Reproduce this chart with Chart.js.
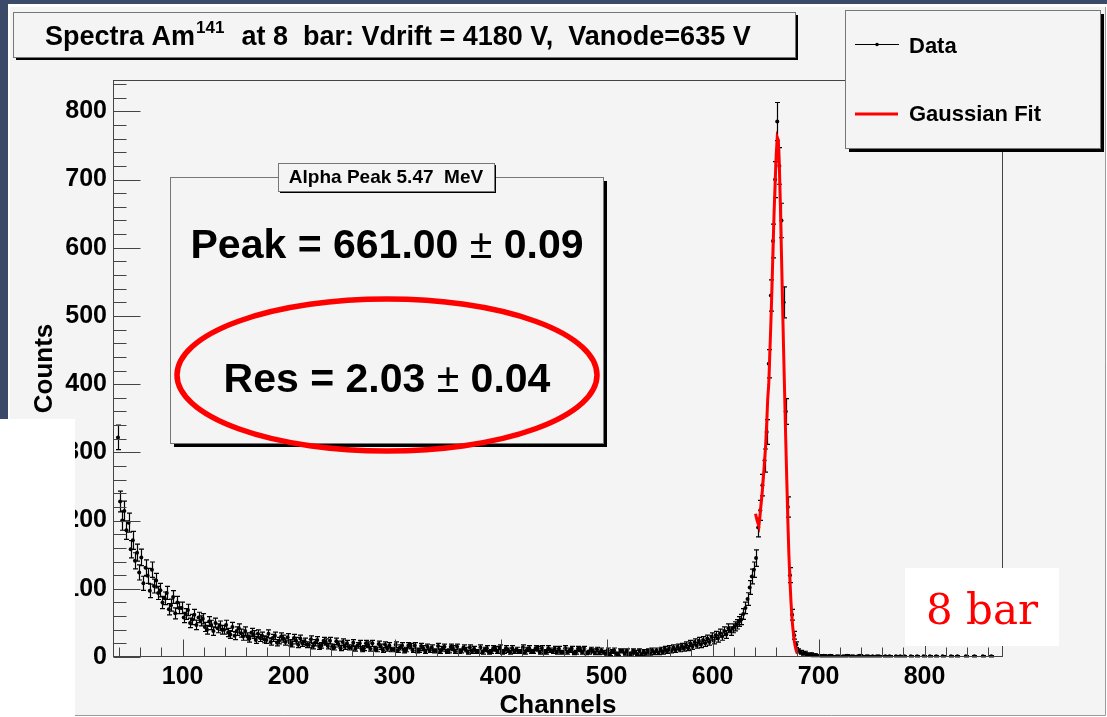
<!DOCTYPE html>
<html lang="en">
<head>
<meta charset="utf-8">
<title>Spectra Am141 at 8 bar</title>
<script src="https://cdn.jsdelivr.net/npm/chart.js@4.4.0/dist/chart.umd.min.js"></script>
<style>
  html, body { margin: 0; padding: 0; background: #3b4a68; }
  canvas { display: block; }
</style>
</head>
<body>
<canvas id="spectrum" width="1107" height="717"></canvas>

<script>
// histogram: 2-channel bins, first bin centred on channel 39
var binStart = 38;
var binWidth = 2;

// counts per bin (rows of 10 bins = 20 channels)
var counts = [
  322,228,200,214,186,197,158,171,141,153,   // 39-57
  124,146,108,131,119,97,128,104,112,94,     // 59-77
  98,80,86,94,70,76,88,64,80,72,             // 79-97
  72,58,63,69,50,55,62,47,58,53,             // 99-117
  56,44,40,52,47,38,50,42,46,40,             // 119-137
  40,47,36,33,44,31,38,42,35,30,             // 139-157
  38,30,27,36,33,25,34,28,31,26,             // 159-177
  25,34,22,28,31,21,24,30,27,22,             // 179-197
  29,21,19,28,24,18,27,20,23,18,             // 199-217
  18,26,16,21,25,15,17,24,22,16,             // 219-237
  24,15,14,23,19,13,22,15,20,14,             // 239-257
  14,21,12,17,20,11,13,20,18,12,             // 259-277
  20,12,11,19,15,10,18,12,17,11,             // 279-297
  11,18,10,14,17,9,11,17,16,10,              // 299-317
  17,9,10,16,13,8,15,10,14,9,                // 319-337
  9,16,8,12,15,8,9,15,13,8,                  // 339-357
  15,8,9,14,11,7,14,8,12,8,                  // 359-377
  8,14,7,11,13,7,8,13,12,8,                  // 379-397
  14,7,8,13,10,7,13,8,11,8,                  // 399-417
  8,14,7,11,13,8,8,13,12,7,                  // 419-437
  13,8,7,13,10,8,12,7,12,7,                  // 439-457
  7,13,7,10,12,6,7,12,11,7,                  // 459-477
  12,6,7,11,9,6,11,6,10,7,                   // 479-497
  5,10,4,8,10,5,4,9,9,5,                     // 499-517
  9,4,5,9,7,4,9,4,8,5,                       // 519-537
  9,5,10,6,10,6,11,7,12,8,                   // 539-557
  13,9,14,10,15,11,16,12,18,13,              // 559-577
  20,15,22,17,24,18,25,20,27,22,             // 579-597
  30,24,32,27,35,30,38,33,42,38,             // 599-617
  42,45,48,52,55,63,72,85,102,118,           // 619-637
  128,145,190,215,252,288,330,430,530,610,   // 639-657
  700,785,720,640,520,360,220,120,62,32,     // 659-677
  18,9,7,5,6,4,3,4,2,3,                      // 679-697
  2,2,1,2,1,1,2,1,0,1,                       // 699-717
  1,0,1,1,2,0,1,1,0,1,                       // 719-737
  2,1,0,1,1,0,1,0,1,1,                       // 739-757
  0,0,1,0,1,0,0,1,0,1,                       // 759-777
  0,1,0,0,1,0,0,1,0,0,                       // 779-797
  1,0,0,1,0,0,1,0,0,1,                       // 799-817
  0,0,0,1,0,0,1,0,0,0,                       // 819-837
  1,0,0,0,1,0,0,0,1,0,                       // 839-857
  0,0,1,0,0,0,0,0                            // 859-873
];

// gaussian fit curve as drawn (red)
var fitChannels = [640.5,642,643.7,645,646,647,648,649,650,651,652,653,654,655,656,657,658,659,660,661,
                   662,663,664,665,666,667,668,669,670,671,672,673,674,675,676,677,678,679,680];
var fitCounts   = [210,200,192,212,228,245,265,287,309,340,378,400,445,490,540,598,650,695,735,762,
                   758,720,660,590,520,450,385,320,260,200,150,112,80,55,38,24,15,9,5];

var xTicks = [100, 200, 300, 400, 500, 600, 700, 800];
var xMinor = [40,60,80,120,140,160,180,220,240,260,280,320,340,360,380,420,440,460,480,
              520,540,560,580,620,640,660,680,720,740,760,780,820,840,860];
var yTicks = [0, 100, 200, 300, 400, 500, 600, 700, 800];
var yMinor = [20,40,60,80,120,140,160,180,220,240,260,280,320,340,360,380,420,440,460,480,
              520,540,560,580,620,640,660,680,720,740,760,780,820,840];

var xMin = 34.3, xMax = 874;
var yMin = 0, yMax = 846;

var FONT = '"Liberation Sans", Arial, Helvetica, sans-serif';

var histPoints = counts.map(function(c, i) {
  return { x: binStart + binWidth * (i + 0.5), y: c > 0 ? c : null };
});
var fitPoints = fitChannels.map(function(c, i) { return { x: c, y: fitCounts[i] }; });

function box(ctx, x, y, w, h, sh) {
  ctx.fillStyle = '#000';
  ctx.fillRect(x + sh, y + sh, w, h);
  ctx.fillStyle = '#f4f4f4';
  ctx.fillRect(x, y, w, h);
  ctx.strokeStyle = '#777';
  ctx.lineWidth = 1;
  ctx.strokeRect(x + 0.5, y + 0.5, w, h);
}

var rootStyle = {
  id: 'rootStyle',
  beforeDraw: function(chart) {
    var ctx = chart.ctx;
    ctx.save();
    ctx.fillStyle = '#3b4a68';
    ctx.fillRect(0, 0, 1107, 717);
    ctx.fillStyle = '#ffffff';
    ctx.fillRect(8, 4, 1099, 713);
    ctx.fillStyle = '#f4f4f4';
    ctx.fillRect(10, 7, 1095, 708);
    ctx.strokeStyle = '#9a9a9a';
    ctx.beginPath();
    ctx.moveTo(1105.5, 7); ctx.lineTo(1105.5, 715.5); ctx.lineTo(10, 715.5);
    ctx.stroke();
    ctx.restore();
  },
  beforeDatasetsDraw: function(chart) {
    // sqrt(N) error bars
    var ctx = chart.ctx, xs = chart.scales.x, ys = chart.scales.y;
    ctx.save();
    ctx.strokeStyle = '#000';
    ctx.lineWidth = 1.2;
    ctx.beginPath();
    histPoints.forEach(function(p) {
      if (p.y === null) return;
      var e = Math.sqrt(p.y);
      var px = Math.round(xs.getPixelForValue(p.x)) + 0.5;
      var top = ys.getPixelForValue(p.y + e);
      var bot = ys.getPixelForValue(Math.max(p.y - e, 0));
      ctx.moveTo(px, top); ctx.lineTo(px, bot);
      ctx.moveTo(px - 2.5, top); ctx.lineTo(px + 2.5, top);
      ctx.moveTo(px - 2.5, bot); ctx.lineTo(px + 2.5, bot);
    });
    ctx.stroke();
    ctx.restore();
  },
  afterDatasetsDraw: function(chart) {
    var ctx = chart.ctx, a = chart.chartArea, xs = chart.scales.x, ys = chart.scales.y;
    ctx.save();
    // frame
    ctx.strokeStyle = '#444';
    ctx.lineWidth = 1;
    ctx.strokeRect(Math.round(a.left) + 0.5, Math.round(a.top) + 0.5,
                   Math.round(a.right - a.left) - 1, Math.round(a.bottom - a.top) - 1);
    // ticks, inward
    ctx.beginPath();
    var b = Math.round(a.bottom) - 0.5, l = Math.round(a.left) + 0.5;
    xTicks.forEach(function(v) { var p = Math.round(xs.getPixelForValue(v)) + 0.5; ctx.moveTo(p, b); ctx.lineTo(p, b - 17); });
    xMinor.forEach(function(v) { var p = Math.round(xs.getPixelForValue(v)) + 0.5; ctx.moveTo(p, b); ctx.lineTo(p, b - 9); });
    yTicks.forEach(function(v) { var p = Math.round(ys.getPixelForValue(v)) + 0.5; ctx.moveTo(l, p); ctx.lineTo(l + 27, p); });
    yMinor.forEach(function(v) { var p = Math.round(ys.getPixelForValue(v)) + 0.5; ctx.moveTo(l, p); ctx.lineTo(l + 13, p); });
    ctx.stroke();

    // axis titles
    ctx.fillStyle = '#000';
    ctx.font = 'bold 26px ' + FONT;
    ctx.textAlign = 'center';
    ctx.textBaseline = 'alphabetic';
    ctx.fillText('Channels', (a.left + a.right) / 2, 713);
    ctx.save();
    ctx.translate(52, (a.top + a.bottom) / 2);
    ctx.rotate(-Math.PI / 2);
    ctx.fillText('Counts', 0, 0);
    ctx.restore();
    ctx.restore();
  },
  afterDraw: function(chart) {
    var ctx = chart.ctx;
    ctx.save();
    // title box
    box(ctx, 13, 12, 782, 45, 3);
    ctx.fillStyle = '#000';
    ctx.textAlign = 'left';
    ctx.textBaseline = 'alphabetic';
    var x = 45;
    ctx.font = 'bold 27px ' + FONT;
    ctx.fillText('Spectra Am', x, 45);
    x += ctx.measureText('Spectra Am').width + 1;
    ctx.font = 'bold 17px ' + FONT;
    ctx.fillText('141', x, 33);
    x += ctx.measureText('141').width + 2;
    ctx.font = 'bold 27px ' + FONT;
    ctx.fillText('  at 8  bar: Vdrift = 4180 V,  Vanode=635 V', x, 45);

    // legend
    box(ctx, 845, 10, 255, 138, 4);
    ctx.strokeStyle = '#000';
    ctx.lineWidth = 1;
    ctx.beginPath(); ctx.moveTo(855, 44.5); ctx.lineTo(899, 44.5); ctx.stroke();
    ctx.fillStyle = '#000';
    ctx.beginPath(); ctx.arc(877, 44.5, 1.8, 0, Math.PI * 2); ctx.fill();
    ctx.strokeStyle = '#ff0000';
    ctx.lineWidth = 3;
    ctx.beginPath(); ctx.moveTo(855, 114); ctx.lineTo(898, 114); ctx.stroke();
    ctx.font = 'bold 22px ' + FONT;
    ctx.fillStyle = '#000';
    ctx.fillText(chart.data.datasets[0].label, 909, 53);
    ctx.fillText(chart.data.datasets[1].label, 909, 121);

    // stats box
    box(ctx, 170, 177, 433, 266, 4);
    box(ctx, 278, 163, 216, 28, 2);
    ctx.fillStyle = '#000';
    ctx.font = 'bold 19px ' + FONT;
    ctx.textAlign = 'center';
    ctx.fillText('Alpha Peak 5.47  MeV', 386, 183);
    drawPM(ctx, 'Peak = 661.00 ', ' 0.09', 387, 258);
    drawPM(ctx, 'Res = 2.03 ', ' 0.04', 387, 392);

    // red ellipse
    ctx.strokeStyle = '#ff0000';
    ctx.lineWidth = 5.5;
    ctx.beginPath();
    ctx.ellipse(387, 375, 210, 76, 0, 0, Math.PI * 2);
    ctx.stroke();

    // white patch lower left
    ctx.fillStyle = '#ffffff';
    ctx.fillRect(0, 419, 75, 298);

    // 8 bar label
    ctx.fillRect(905, 568, 154, 78);
    ctx.fillStyle = '#ff0000';
    ctx.font = '42px "DejaVu Serif", serif';
    ctx.textAlign = 'center';
    ctx.fillText('8 bar', 982, 624);
    ctx.restore();
  }
};

function drawPM(ctx, left, right, cx, base) {
  ctx.textAlign = 'left';
  ctx.font = 'bold 41px ' + FONT;
  var w1 = ctx.measureText(left).width, w3 = ctx.measureText(right).width;
  ctx.font = '41px ' + FONT;
  var w2 = ctx.measureText('\u00b1').width;
  var x = cx - (w1 + w2 + w3) / 2;
  ctx.font = 'bold 41px ' + FONT;
  ctx.fillText(left, x, base);
  ctx.font = '41px ' + FONT;
  ctx.fillText('\u00b1', x + w1, base);
  ctx.font = 'bold 41px ' + FONT;
  ctx.fillText(right, x + w1 + w2, base);
}

var tickFont = { family: FONT, weight: 'bold', size: 25 };

new Chart(document.getElementById('spectrum').getContext('2d'), {
  type: 'scatter',
  data: {
    datasets: [{
      label: 'Data',
      data: histPoints,
      pointRadius: 2,
      pointBackgroundColor: '#000',
      pointBorderWidth: 0,
      showLine: false,
      order: 2
    }, {
      type: 'line',
      label: 'Gaussian Fit',
      data: fitPoints,
      borderColor: '#ff0000',
      borderWidth: 3,
      pointRadius: 0,
      tension: 0,
      fill: false,
      order: 1
    }]
  },
  options: {
    responsive: false,
    animation: false,
    layout: { padding: { left: 0, top: 80, right: 104, bottom: 0 } },
    plugins: { legend: { display: false }, tooltip: { enabled: false } },
    scales: {
      x: {
        type: 'linear', min: xMin, max: xMax,
        grid: { display: false, drawTicks: false },
        border: { display: false },
        ticks: { font: tickFont, color: '#000', padding: 5, maxRotation: 0, autoSkip: false },
        afterBuildTicks: function(s) { s.ticks = xTicks.map(function(v) { return { value: v }; }); },
        afterFit: function(s) { s.height = 60; }
      },
      y: {
        type: 'linear', min: yMin, max: yMax,
        grid: { display: false, drawTicks: false },
        border: { display: false },
        ticks: { font: tickFont, color: '#000', padding: 6, autoSkip: false },
        afterBuildTicks: function(s) { s.ticks = yTicks.map(function(v) { return { value: v }; }); },
        afterFit: function(s) { s.width = 113; }
      }
    }
  },
  plugins: [rootStyle]
});
</script>
</body>
</html>
